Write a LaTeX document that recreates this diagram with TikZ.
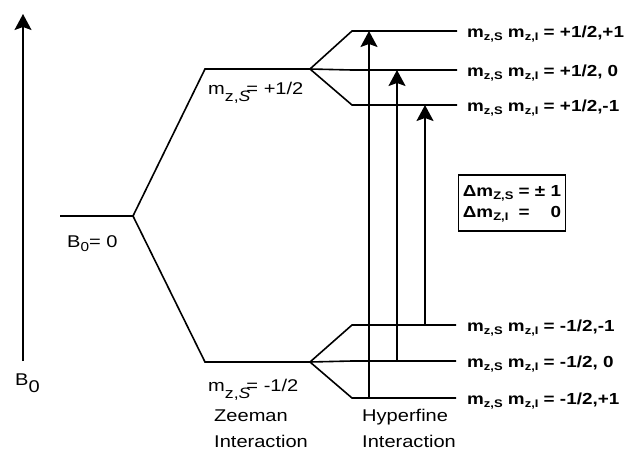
\documentclass[tikz,border=0pt]{standalone}
\usepackage{fontspec}
\setmainfont{Liberation Sans}[FakeStretch=1.18]
\usetikzlibrary{arrows.meta}

\newcommand\lowsub[2]{\raisebox{#1}{\fontsize{11}{11}\selectfont#2}}
\newcommand\spinlbl[2]{m\lowsub{-3.5pt}{z,S} m\lowsub{-3.5pt}{z,I} = #1/2,#2}
\newcommand\zeelbl[1]{m\raisebox{-7pt}{\fontsize{15}{15}\selectfont z,\textit{S}}\kern-4pt= #1/2}

\begin{document}
\begin{tikzpicture}[x=1pt, y=-1pt,
    level/.style={line width=1.6pt},
    trans/.style={line width=1.6pt, -{Stealth[length=16pt, width=17pt, inset=3pt]}},
    lbl/.style={font=\fontsize{17}{20}\selectfont, inner sep=0pt, anchor=base west},
    spin/.style={font=\fontsize{16}{19}\bfseries\selectfont, inner sep=0pt, anchor=base west}]
  \useasboundingbox (0,0) rectangle (632,455);
  % field axis
  \coordinate (ax0) at (23,361);
  \coordinate (ax1) at (23,14);
  \draw[trans] (ax0) -- (ax1);
  \node[lbl] (bax) at (15,385) {B\raisebox{-7pt}{0}};
  % Zeeman levels
  \coordinate (z0) at (60,216);
  \coordinate (zs) at (133,216);
  \coordinate (zu) at (205,69);
  \coordinate (zue) at (310,69);
  \coordinate (zd) at (205,362);
  \coordinate (zde) at (310,362);
  \draw[level] (z0) -- (zs) -- (zu) -- (zue);
  \draw[level] (zs) -- (zd) -- (zde);
  \node[lbl] (bzero) at (67,247) {B\raisebox{-4pt}{\fontsize{13}{13}\selectfont 0}= 0};
  \node[lbl] (mup) at (208,94) {\zeelbl{+1}};
  \node[lbl] (mdn) at (208,391) {\zeelbl{-1}};
  \node[lbl] (zee1) at (214,421) {Zeeman};
  \node[lbl] (zee2) at (214,447) {Interaction};
  % hyperfine levels
  \foreach \n/\y in {1/31, 2/70, 3/105} {
    \coordinate (hu\n) at (352,\y);
    \coordinate (hu\n e) at (457,\y);
    \draw[level] (zue) -- (hu\n) -- (hu\n e);
  }
  \foreach \n/\y in {1/325, 2/361, 3/398} {
    \coordinate (hd\n) at (352,\y);
    \coordinate (hd\n e) at (456,\y);
    \draw[level] (zde) -- (hd\n) -- (hd\n e);
  }
  \node[lbl] (hyp1) at (362,421) {Hyperfine};
  \node[lbl] (hyp2) at (362,447) {Interaction};
  % allowed transitions
  \coordinate (t1a) at (369,398);
  \coordinate (t1b) at (369,31);
  \coordinate (t2a) at (397,361);
  \coordinate (t2b) at (397,70);
  \coordinate (t3a) at (425,325);
  \coordinate (t3b) at (425,105);
  \draw[trans] (t1a) -- (t1b);
  \draw[trans] (t2a) -- (t2b);
  \draw[trans] (t3a) -- (t3b);
  % state labels
  \node[spin] (s1) at (467,37) {\spinlbl{+1}{+1}};
  \node[spin] (s2) at (467,76) {\spinlbl{+1}{\ 0}};
  \node[spin] (s3) at (467,111) {\spinlbl{+1}{-1}};
  \node[spin] (s4) at (467,331) {\spinlbl{-1}{-1}};
  \node[spin] (s5) at (467,367) {\spinlbl{-1}{\ 0}};
  \node[spin] (s6) at (467,404) {\spinlbl{-1}{+1}};
  % selection rules
  \node[draw, line width=1.1pt, inner xsep=4pt, inner ysep=0pt, font=\fontsize{16}{21}\bfseries\selectfont,
        minimum height=56pt] (rules) at (512,203)
    {\begin{tabular}{@{}l@{\ }c@{\ }r@{}}
      Δm\lowsub{-3pt}{Z,S} & = & ± 1\\
      Δm\lowsub{-3pt}{Z,I} & = & 0
    \end{tabular}};
\end{tikzpicture}
\end{document}
